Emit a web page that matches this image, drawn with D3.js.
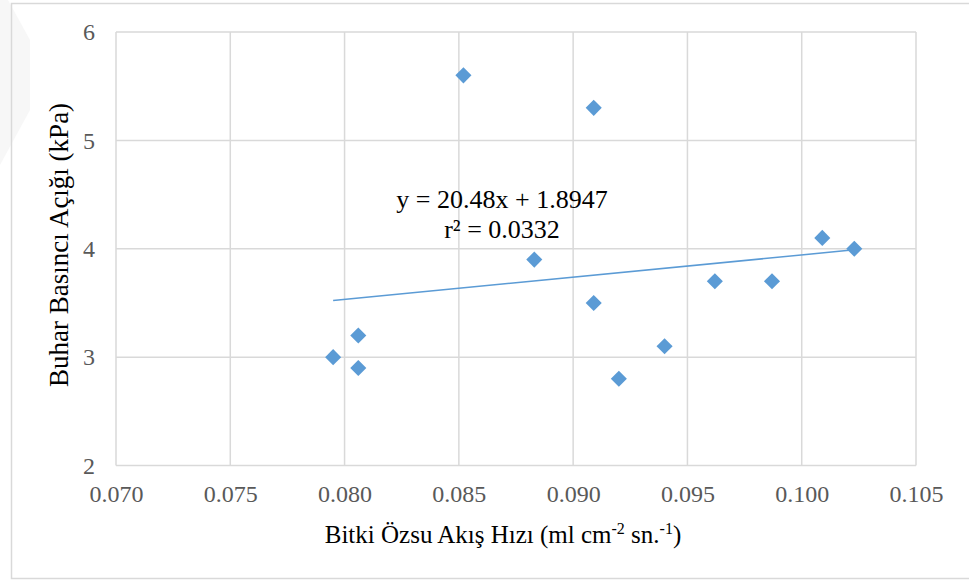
<!DOCTYPE html>
<html>
<head>
<meta charset="utf-8">
<script src="https://cdn.jsdelivr.net/npm/d3@7"></script>
<style>
    body { margin: 0; background: #fff; }
    svg { display: block; }
</style>
</head>
<body>
<svg></svg>
<script>
let W = 969;
let H = 581;

// values
let flowRate = [0.0795, 0.0806, 0.0806, 0.0852, 0.0883, 0.0909, 0.0909, 0.0920, 0.0940, 0.0962, 0.0987, 0.1009, 0.1023];
let vpd = [3.0, 3.2, 2.9, 5.6, 3.9, 5.3, 3.5, 2.8, 3.1, 3.7, 3.7, 4.1, 4.0];
let xTicks = [0.070, 0.075, 0.080, 0.085, 0.090, 0.095, 0.100, 0.105];
let yTicks = [2, 3, 4, 5, 6];
let slope = 20.48;
let intercept = 1.8947;
let eqLines = ["y = 20.48x + 1.8947", "r² = 0.0332"];

let color = "#5B9BD5";
let grid = "#d9d9d9";
let serif = "'Liberation Serif'";

let svg = d3.select("svg").attr("width", W).attr("height", H);

// faint watermark wedge at the left edge
svg.append("polygon")
    .attr("points", "0,0 8,0 30,40 30,110 0,165")
    .style("fill", "#f7f7f7");

// chart border
svg.append("rect")
    .attr("x", 11.5).attr("y", 3.5)
    .attr("width", 980).attr("height", 575)
    .style("fill", "none")
    .style("stroke", grid)
    .style("stroke-width", 1.5);

let x = d3.scaleLinear().domain([0.070, 0.105]).range([116, 916]);
let y = d3.scaleLinear().domain([2, 6]).range([465.5, 32]);

// gridlines
svg.selectAll(".vgrid").data(xTicks).enter().append("line")
    .attr("x1", d => x(d)).attr("x2", d => x(d))
    .attr("y1", y(6)).attr("y2", y(2))
    .style("stroke", grid).style("stroke-width", 1.5);

svg.selectAll(".hgrid").data(yTicks).enter().append("line")
    .attr("x1", x(0.070)).attr("x2", x(0.105))
    .attr("y1", d => y(d)).attr("y2", d => y(d))
    .style("stroke", grid).style("stroke-width", 1.5);

// axes (labels only)
let xAxis = svg.append("g")
    .attr("transform", "translate(0," + y(2) + ")")
    .call(d3.axisBottom(x).tickValues(xTicks).tickFormat(d3.format(".3f")).tickSize(0).tickPadding(19));
let yAxis = svg.append("g")
    .attr("transform", "translate(" + x(0.070) + ",0)")
    .call(d3.axisLeft(y).tickValues(yTicks).tickFormat(d3.format("d")).tickSize(0).tickPadding(21));

[xAxis, yAxis].forEach(function (a) {
    a.select(".domain").remove();
    a.selectAll("text")
        .style("font-family", serif)
        .style("font-size", "24px")
        .style("fill", "#595959");
});

// trendline
let x0 = d3.min(flowRate);
let x1 = d3.max(flowRate);
svg.append("line")
    .attr("x1", x(x0)).attr("y1", y(slope * x0 + intercept))
    .attr("x2", x(x1)).attr("y2", y(slope * x1 + intercept))
    .style("stroke", color)
    .style("stroke-width", 1.5);

// points
let diamond = d3.symbol().type(d3.symbolDiamond2).size(165);
svg.selectAll(".pt").data(flowRate).enter().append("path")
    .attr("d", diamond)
    .attr("transform", (d, i) => "translate(" + x(d) + "," + y(vpd[i]) + ")")
    .style("fill", color);

// equation
svg.selectAll(".eq").data(eqLines).enter().append("text")
    .attr("x", 502)
    .attr("y", (d, i) => 208 + i * 30)
    .attr("text-anchor", "middle")
    .style("font-family", serif)
    .style("font-size", "26px")
    .style("fill", "#000")
    .text(d => d);

// axis titles
svg.append("text")
    .attr("transform", "translate(68,245) rotate(-90)")
    .attr("text-anchor", "middle")
    .style("font-family", serif)
    .style("font-size", "27px")
    .text("Buhar Basıncı Açığı (kPa)");

let xt = svg.append("text")
    .attr("x", 503).attr("y", 543)
    .attr("text-anchor", "middle")
    .style("font-family", serif)
    .style("font-size", "25px");
xt.append("tspan").text("Bitki Özsu Akış Hızı (ml cm");
xt.append("tspan").attr("dy", -9).style("font-size", "16px").text("-2");
xt.append("tspan").attr("dy", 9).text(" sn.");
xt.append("tspan").attr("dy", -9).style("font-size", "16px").text("-1");
xt.append("tspan").attr("dy", 9).text(")");
</script>
</body>
</html>
